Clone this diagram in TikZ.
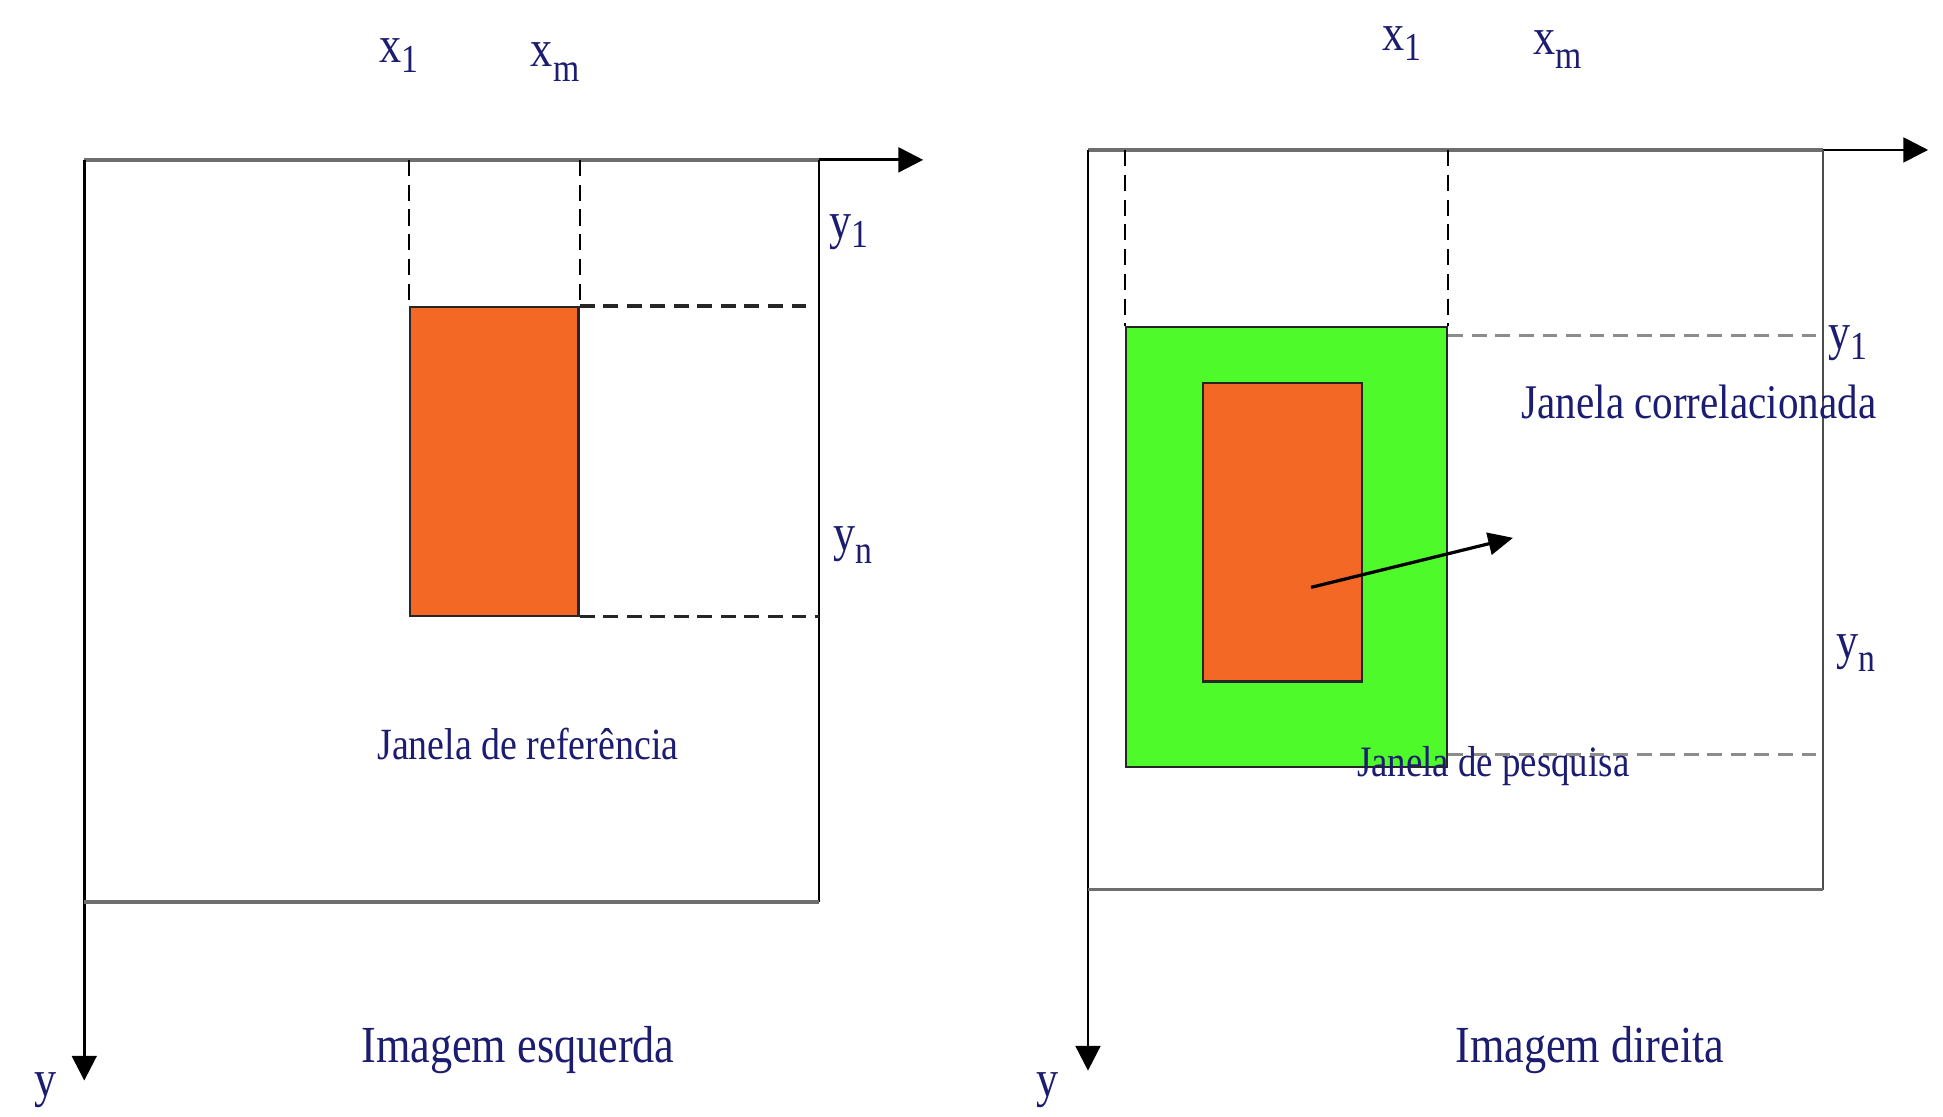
\documentclass[tikz,border=0pt]{standalone}
\usepackage{fontspec}
\setmainfont{Liberation Serif}
\usetikzlibrary{arrows.meta}
\definecolor{txt}{RGB}{28,28,112}
\definecolor{org}{RGB}{243,104,36}
\definecolor{grn}{RGB}{78,250,42}
\definecolor{axgray}{RGB}{110,110,110}
\newcommand{\nar}[1]{\scalebox{0.85}[1]{#1}}
\newcommand{\lowsub}[2]{\raisebox{-#1}{\fontsize{16}{18}\selectfont #2}}
\begin{document}
\begin{tikzpicture}[x=0.5pt,y=-0.5pt,
  lbl/.style={text=txt, inner sep=0pt, font=\fontsize{21}{25}\selectfont},
  sml/.style={text=txt, inner sep=0pt, font=\fontsize{18}{22}\selectfont},
  axis/.style={line width=1.4pt, draw=axgray},
  axarrow/.style={line width=1.1pt, draw=black, -{Triangle[length=10pt,width=10pt]}},
  edge/.style={line width=0.8pt, draw=black},
  vdash/.style={line width=0.8pt, draw=black, dash pattern=on 6.5pt off 3.5pt},
  hdash/.style={line width=1.3pt, draw=black!85, dash pattern=on 6pt off 3.5pt},
  hdashg/.style={line width=1.3pt, draw=black!45, dash pattern=on 6pt off 3.5pt},
  win/.style={draw=black!85, line width=0.9pt, inner sep=0pt, anchor=north west}]
\useasboundingbox (0,0) rectangle (1568,901);

% ---------------- left panel ----------------
\coordinate (LO) at (68,129);
\coordinate (LX) at (745,129);
\coordinate (LY) at (68,872);
\coordinate (LTR) at (661,129);
\coordinate (LBR) at (661,728);
\coordinate (LBL) at (68,728);
\draw[axis] (LO) -- (LTR);
\draw[axarrow] (LTR) -- (LX);
\draw[axarrow] (LO) -- (LY);
\draw[edge] (LTR) -- (LBR);
\draw[axis] (LBL) -- (LBR);

\node[win, fill=org, minimum width=68pt, minimum height=124.5pt] (refw) at (330,247) {};
\coordinate (Lx1) at (refw.north west |- LO);
\coordinate (Lxm) at (refw.north east |- LO);
\coordinate (Ly1) at (657,247);
\coordinate (Lyn) at (LBR |- refw.south east);
\draw[vdash] (Lx1) -- (refw.north west);
\draw[vdash] (Lxm) -- (refw.north east);
\draw[hdash] (refw.north east) -- (Ly1 |- refw.north east);
\draw[hdash] (refw.south east) -- (Lyn);

\node[lbl] (lx1) at (322,45) {\nar{x\lowsub{4pt}{1}}};
\node[lbl] (lxm) at (448,50) {\nar{x\lowsub{6pt}{m}}};
\node[lbl] (ly1) at (685,187) {\nar{y\lowsub{4pt}{1}}};
\node[lbl] (lyn) at (688,440) {\nar{y\lowsub{5pt}{n}}};
\node[lbl] (lyax) at (37,880) {\nar{y}};
\node[sml] (lref) at (426,600) {\nar{Janela de referência}};
\node[lbl] (limg) at (418,847) {\nar{Imagem esquerda}};

% ---------------- right panel ----------------
\coordinate (RO) at (878,121);
\coordinate (RX) at (1556,121);
\coordinate (RY) at (878,864);
\coordinate (RTR) at (1471,121);
\coordinate (RBR) at (1471,718);
\coordinate (RBL) at (878,718);
\draw[axis] (RO) -- (RTR);
\draw[axarrow] (RTR) -- (RX);
\draw[axarrow] (RO) -- (RY);
\draw[edge, draw=black!70] (RTR) -- (RBR);
\draw[axis] (RBL) -- (RBR);

\node[win, fill=grn, minimum width=129.5pt, minimum height=177.5pt] (srch) at (908,263) {};
\node[win, fill=org, minimum width=64pt, minimum height=120.5pt] (corw) at (970,308) {};
\coordinate (Rx1) at (srch.north west |- RO);
\coordinate (Rxm) at (srch.north east |- RO);
\coordinate (Ry1a) at (srch.east |- 0,271);
\coordinate (Ry1) at (1471,271);
\coordinate (Ryna) at (srch.east |- 0,609);
\coordinate (Ryn) at (1471,609);
\draw[vdash] (Rx1) -- (srch.north west);
\draw[vdash] (Rxm) -- (srch.north east);
\draw[hdashg] (Ry1a) -- (Ry1);
\draw[hdashg] (Ryna) -- (Ryn);

\coordinate (mvs) at (1058,474);
\coordinate (mve) at (1221,434);
\draw[line width=1.3pt, -{Triangle[length=10pt,width=9pt]}] (mvs) -- (mve);

\node[lbl] (rx1) at (1131,35) {\nar{x\lowsub{4pt}{1}}};
\node[lbl] (rxm) at (1257,40) {\nar{x\lowsub{6pt}{m}}};
\node[lbl] (ry1) at (1491,277) {\nar{y\lowsub{4pt}{1}}};
\node[lbl] (ryn) at (1498,527) {\nar{y\lowsub{5pt}{n}}};
\node[lbl] (ryax) at (845,880) {\nar{y}};
\node[lbl, font=\fontsize{19.5}{23}\selectfont] (rcor) at (1371,324) {\nar{Janela correlacionada}};
\node[sml, font=\fontsize{17.5}{21}\selectfont] (rpes) at (1205,618) {\nar{Janela de pesquisa}};
\node[lbl] (rimg) at (1283,847) {\nar{Imagem direita}};
\end{tikzpicture}
\end{document}
